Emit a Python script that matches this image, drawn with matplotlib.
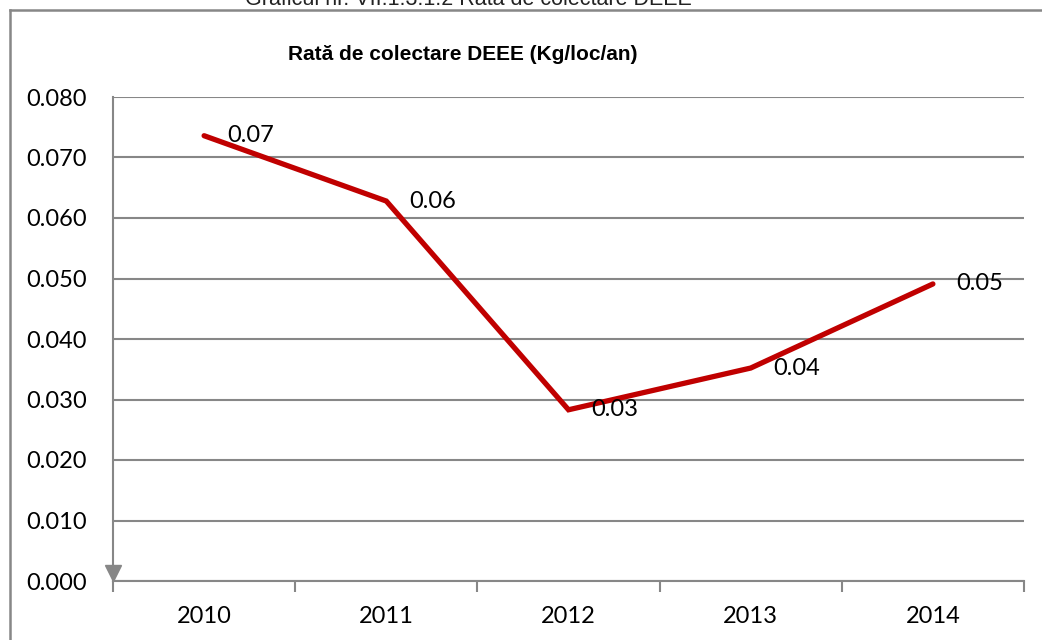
import matplotlib
matplotlib.use("Agg")
import matplotlib.pyplot as plt
from matplotlib.lines import Line2D

# Rată de colectare DEEE (kg/locuitor/an)
years = ["2010", "2011", "2012", "2013", "2014"]
rates = [0.0736, 0.0628, 0.0283, 0.0352, 0.0491]
y_ticks = [0.0, 0.01, 0.02, 0.03, 0.04, 0.05, 0.06, 0.07, 0.08]

GRID = "#878787"
RED = "#C00000"
W, H = 1042, 640

plt.rcParams["font.family"] = ["Lato", "DejaVu Sans"]

fig = plt.figure(figsize=(W / 100, H / 100), dpi=100)

# caption above the chart frame (partly cut off at the top edge)
fig.text(468 / W, 1 - 5 / H, "Graficul nr. VII.1.3.1.2 Rata de colectare DEEE",
         ha="center", va="baseline", fontsize=15.5,
         family=["Liberation Sans", "DejaVu Sans"], color="#222222")

# chart frame
fig.add_artist(Line2D([10 / W, 1], [1 - 10 / H, 1 - 10 / H], transform=fig.transFigure,
                      color=GRID, lw=1.8))
fig.add_artist(Line2D([10 / W, 10 / W], [0, 1 - 10 / H], transform=fig.transFigure,
                      color=GRID, lw=1.8))

fig.text(463 / W, 1 - 54 / H, "Rată de colectare DEEE (Kg/loc/an)",
         ha="center", va="center", fontsize=15, fontweight="bold",
         family=["Liberation Sans", "DejaVu Sans"])

ax = fig.add_axes([113 / W, 1 - 581 / H, (1024 - 113) / W, (581 - 97) / H])
x = [i + 0.5 for i in range(len(years))]

ax.set_xlim(0, len(years))
ax.set_ylim(0, 0.08)
ax.set_yticks(y_ticks)
ax.set_yticklabels([f"{v:.3f}" for v in y_ticks], fontsize=17)
ax.tick_params(axis="y", length=0, pad=19)
ax.grid(axis="y", color=GRID, lw=1.5)
ax.set_axisbelow(True)

# category boundaries get the tick marks, labels sit in the middle
ax.set_xticks(range(len(years) + 1))
ax.set_xticklabels([])
ax.tick_params(axis="x", which="major", length=8, width=1.5, color=GRID, direction="out")
ax.set_xticks(x, minor=True)
ax.set_xticklabels(years, minor=True, fontsize=17)
ax.tick_params(axis="x", which="minor", length=0, pad=18)

for side in ("top", "right"):
    ax.spines[side].set_visible(False)
ax.spines["bottom"].set_color(GRID)
ax.spines["bottom"].set_linewidth(1.5)
ax.spines["left"].set_color(GRID)
ax.spines["left"].set_linewidth(1.5)
ax.plot([0], [0.0013], marker="v", ms=11, color=GRID, clip_on=False, zorder=4)

ax.plot(x, rates, color=RED, lw=3.8, solid_capstyle="round", solid_joinstyle="miter", zorder=3)
for xi, v in zip(x, rates):
    ax.annotate(f"{v:.2f}", (xi, v), xytext=(16.5, 0), textcoords="offset points",
                ha="left", va="center", fontsize=17, zorder=5)

fig.savefig("out.png", dpi=100)
